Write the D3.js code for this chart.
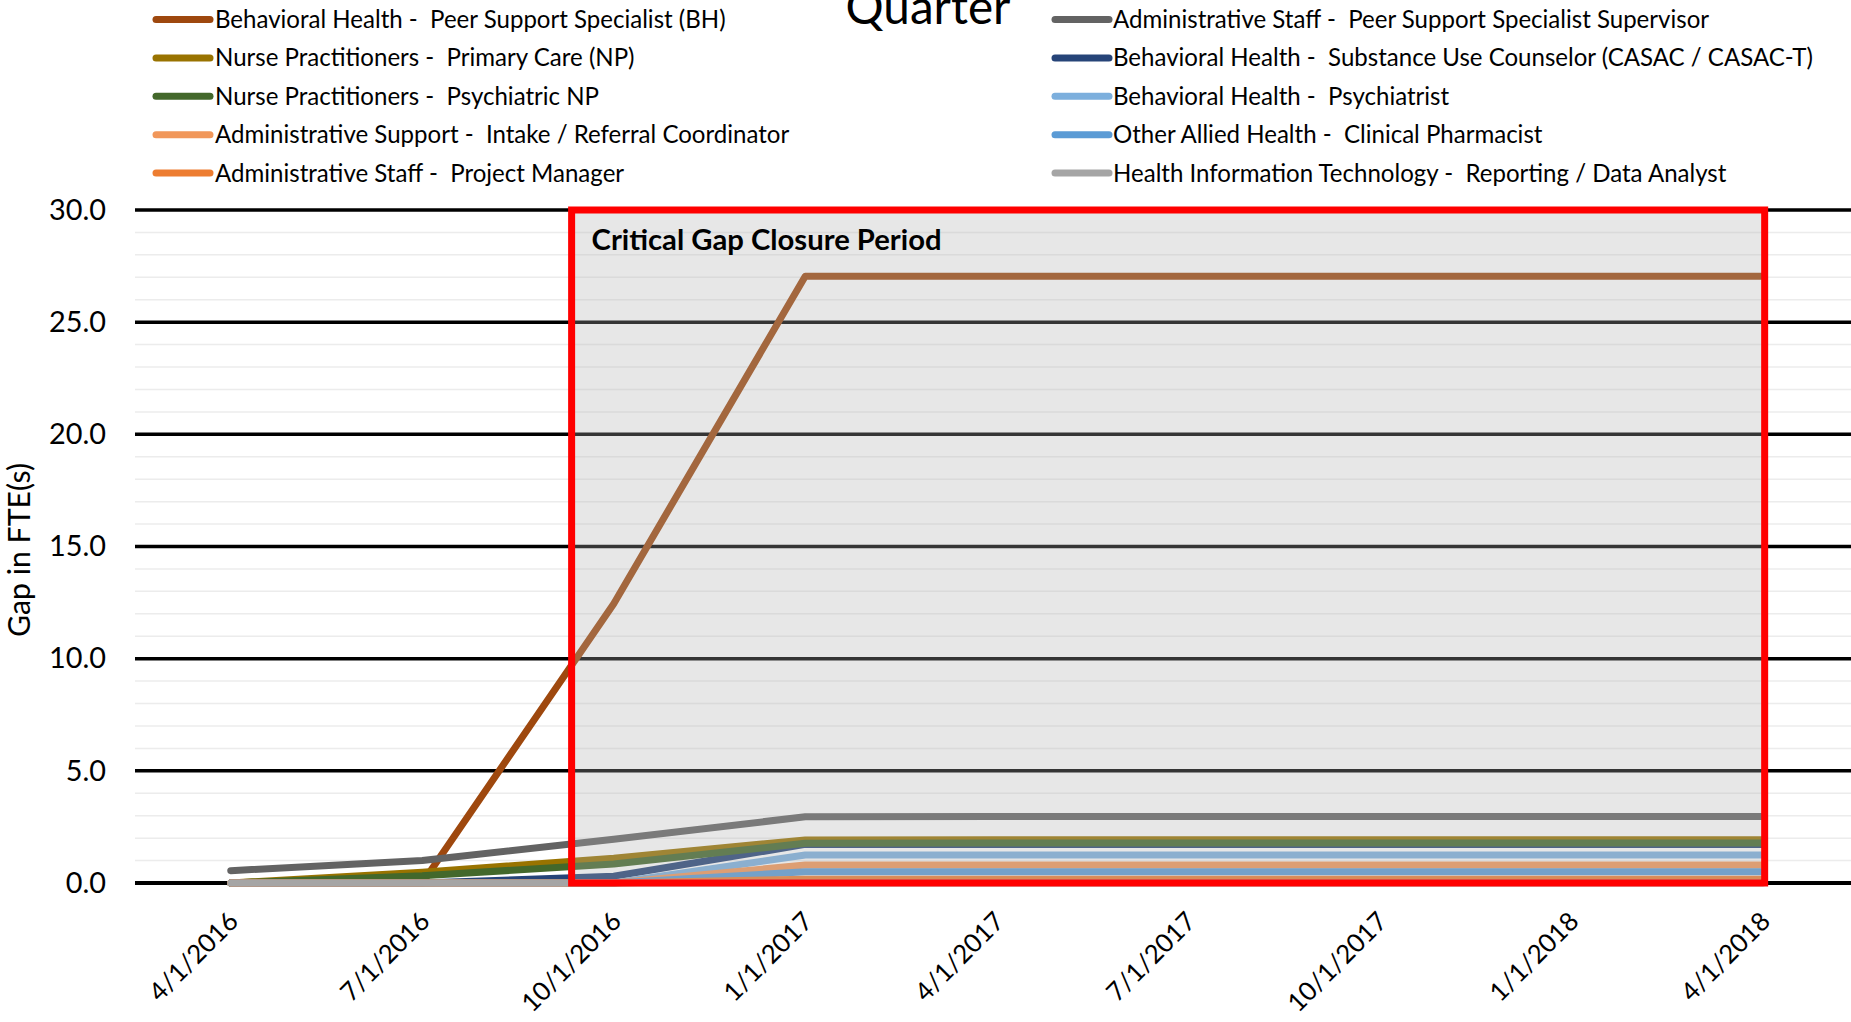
<!DOCTYPE html>
<html lang="en">
<head>
<meta charset="utf-8">
<title>Gap in FTE(s) by Quarter</title>
<script src="https://d3js.org/d3.v7.min.js"></script>
<style>
  body { margin: 0; background: #fff; }
  svg text { font-family: Lato, "Open Sans", sans-serif; fill: #000; white-space: pre; }
</style>
</head>
<body>
<div id="chart"></div>
<script>
// Quarters on the category axis
const quarters = ["4/1/2016", "7/1/2016", "10/1/2016", "1/1/2017", "4/1/2017",
                  "7/1/2017", "10/1/2017", "1/1/2018", "4/1/2018"];

// Series in plotting order (the legend reads row by row)
const seriesNames = [
  "Behavioral Health -  Peer Support Specialist (BH)",
  "Administrative Staff -  Peer Support Specialist Supervisor",
  "Nurse Practitioners -  Primary Care (NP)",
  "Behavioral Health -  Substance Use Counselor (CASAC / CASAC-T)",
  "Nurse Practitioners -  Psychiatric NP",
  "Behavioral Health -  Psychiatrist",
  "Administrative Support -  Intake / Referral Coordinator",
  "Other Allied Health -  Clinical Pharmacist",
  "Administrative Staff -  Project Manager",
  "Health Information Technology -  Reporting / Data Analyst"
];
const seriesColors = ["#9e480e", "#636363", "#997300", "#264478", "#43682b",
                      "#7cafdd", "#f1975a", "#5b9bd5", "#ed7d31", "#a5a5a5"];

// Gap in FTE(s), one value per quarter
const peerSupportBH     = [0, 0, 12.45, 27.05, 27.05, 27.05, 27.05, 27.05, 27.05];
const peerSupervisor    = [0.55, 1.0, 1.95, 2.95, 2.96, 2.96, 2.96, 2.96, 2.96];
const npPrimaryCare     = [0, 0.48, 1.1, 1.92, 1.93, 1.93, 1.93, 1.93, 1.93];
const substanceUse      = [0, 0, 0.3, 1.72, 1.72, 1.72, 1.72, 1.72, 1.72];
const psychiatricNP     = [0, 0.32, 0.85, 1.77, 1.78, 1.78, 1.78, 1.78, 1.78];
const psychiatrist      = [0, 0, 0, 1.25, 1.25, 1.25, 1.25, 1.25, 1.25];
const intakeReferral    = [0, 0, 0, 0.8, 0.8, 0.8, 0.8, 0.8, 0.8];
const clinicalPharmacist = [0, 0, 0, 0.5, 0.5, 0.5, 0.5, 0.5, 0.5];
const projectManager    = [0, 0, 0, 0.17, 0.17, 0.17, 0.17, 0.17, 0.17];
const dataAnalyst       = [0, 0, 0, 0, 0, 0, 0, 0, 0];

const seriesValues = [peerSupportBH, peerSupervisor, npPrimaryCare, substanceUse, psychiatricNP,
                      psychiatrist, intakeReferral, clinicalPharmacist, projectManager, dataAnalyst];

// Highlighted period, in category positions
const gapPeriod = { from: 1.78, to: 8.01, label: "Critical Gap Closure Period" };

const yMax = 30;
const majorTicks = d3.range(0, yMax + 1, 5);
const minorTicks = d3.range(0, yMax + 1, 1);

const series = seriesNames.map((name, i) => ({ name, color: seriesColors[i], values: seriesValues[i] }));

// Chart dimensions
const width = 1851;
const height = 1022;
const plot = { left: 135, right: 1858.5, top: 210, bottom: 883 };

const svg = d3.select("#chart")
  .append("svg")
  .attr("width", width)
  .attr("height", height);

// font size that makes a text span the wanted width
function fitSize(text, weight, target) {
  const probe = svg.append("text").attr("font-size", 100).attr("font-weight", weight).text(text);
  const w = probe.node().getComputedTextLength();
  probe.remove();
  return 100 * target / w;
}

// Scales
const x = d3.scalePoint()
  .domain(quarters)
  .range([plot.left, plot.right])
  .padding(0.5);

const xPos = i => x(quarters[0]) + i * x.step();

const y = d3.scaleLinear()
  .domain([0, yMax])
  .range([plot.bottom, plot.top]);

// Gridlines
svg.append("g")
  .selectAll("line")
  .data(minorTicks.filter(d => d % 5 !== 0))
  .join("line")
  .attr("x1", plot.left).attr("x2", width)
  .attr("y1", d => y(d)).attr("y2", d => y(d))
  .attr("stroke", "#ececec")
  .attr("stroke-width", 1.5);

svg.append("g")
  .selectAll("line")
  .data(majorTicks)
  .join("line")
  .attr("x1", plot.left).attr("x2", width)
  .attr("y1", d => y(d)).attr("y2", d => y(d))
  .attr("stroke", "#000")
  .attr("stroke-width", d => d === 0 ? 4 : 3.5);

// Y axis labels
const tickSize = fitSize("30.0", "normal", 57);
const yAxis = svg.append("g")
  .attr("transform", `translate(${plot.left},0)`)
  .call(d3.axisLeft(y).tickValues(majorTicks).tickFormat(d3.format(".1f")).tickSize(0).tickPadding(29));
yAxis.select(".domain").remove();
yAxis.selectAll("text")
  .attr("font-size", tickSize)
  .style("font-family", "Lato, 'Open Sans', sans-serif")
  .attr("fill", "#000");

svg.append("text")
  .attr("transform", "translate(30,550) rotate(-90)")
  .attr("text-anchor", "middle")
  .attr("font-size", fitSize("Gap in FTE(s)", "normal", 174))
  .text("Gap in FTE(s)");

// X axis labels
const xTickSize = fitSize("10/1/2017", "normal", 128);
svg.append("g")
  .selectAll("text")
  .data(quarters)
  .join("text")
  .attr("transform", d => `translate(${x(d) + 9},${plot.bottom + 40}) rotate(-45)`)
  .attr("text-anchor", "end")
  .attr("font-size", xTickSize)
  .text(d => d);

// Draw data
const line = d3.line()
  .x((d, i) => x(quarters[i]))
  .y(d => y(d));

svg.append("g")
  .selectAll("path")
  .data(series)
  .join("path")
  .attr("d", d => line(d.values))
  .attr("fill", "none")
  .attr("stroke", d => d.color)
  .attr("stroke-width", 7)
  .attr("stroke-linejoin", "round")
  .attr("stroke-linecap", "round");

// Highlighted period
svg.append("rect")
  .attr("x", xPos(gapPeriod.from))
  .attr("y", y(yMax))
  .attr("width", xPos(gapPeriod.to) - xPos(gapPeriod.from))
  .attr("height", y(0) - y(yMax))
  .attr("fill", "rgb(175,175,175)")
  .attr("fill-opacity", 0.3)
  .attr("stroke", "#ff0000")
  .attr("stroke-width", 7);

svg.append("text")
  .attr("x", xPos(gapPeriod.from) + 20)
  .attr("y", y(yMax) + 40)
  .attr("font-weight", "bold")
  .attr("font-size", fitSize(gapPeriod.label, "bold", 350))
  .text(gapPeriod.label);

// Title (only its last line shows)
svg.append("text")
  .attr("x", 928)
  .attr("y", 24)
  .attr("text-anchor", "middle")
  .attr("font-size", fitSize("Quarter", "normal", 165))
  .text("Quarter");

// Legend
const legendSize = fitSize(seriesNames[3], "normal", 700);
const legendCols = [{ swatch: 156, text: 215 }, { swatch: 1055, text: 1113 }];

const legend = svg.append("g")
  .selectAll("g")
  .data(series)
  .join("g")
  .attr("transform", (d, i) => `translate(0,${19.5 + Math.floor(i / 2) * 38.4})`);

legend.append("line")
  .attr("x1", (d, i) => legendCols[i % 2].swatch)
  .attr("x2", (d, i) => legendCols[i % 2].swatch + 54)
  .attr("stroke", d => d.color)
  .attr("stroke-width", 7)
  .attr("stroke-linecap", "round");

legend.append("text")
  .attr("x", (d, i) => legendCols[i % 2].text)
  .attr("dy", "0.35em")
  .attr("font-size", legendSize)
  .text(d => d.name);
</script>
</body>
</html>
